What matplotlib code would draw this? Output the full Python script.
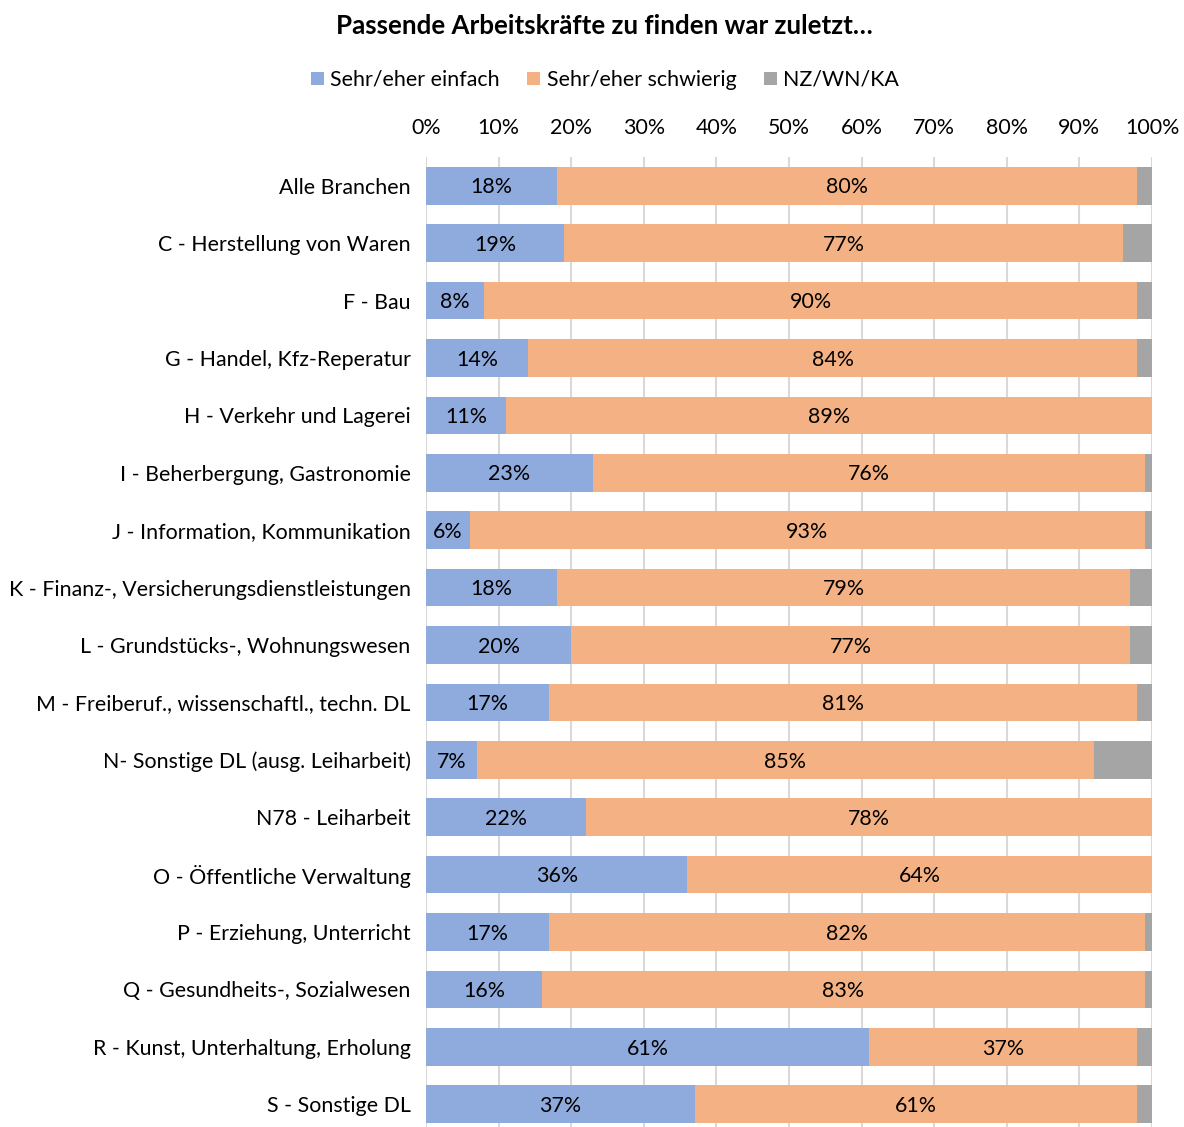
import matplotlib
matplotlib.use("Agg")
import matplotlib.pyplot as plt
from matplotlib.patches import Patch
import numpy as np

plt.rcParams['font.family'] = ['Lato', 'DejaVu Sans']

categories = [
    "Alle Branchen",
    "C - Herstellung von Waren",
    "F - Bau",
    "G - Handel, Kfz-Reperatur",
    "H - Verkehr und Lagerei",
    "I - Beherbergung, Gastronomie",
    "J - Information, Kommunikation",
    "K - Finanz-, Versicherungsdienstleistungen",
    "L - Grundstücks-, Wohnungswesen",
    "M - Freiberuf., wissenschaftl., techn. DL",
    "N- Sonstige DL (ausg. Leiharbeit)",
    "N78 - Leiharbeit",
    "O - Öffentliche Verwaltung",
    "P - Erziehung, Unterricht",
    "Q - Gesundheits-, Sozialwesen",
    "R - Kunst, Unterhaltung, Erholung",
    "S - Sonstige DL",
]
einfach = [18, 19, 8, 14, 11, 23, 6, 18, 20, 17, 7, 22, 36, 17, 16, 61, 37]
schwierig = [80, 77, 90, 84, 89, 76, 93, 79, 77, 81, 85, 78, 64, 82, 83, 37, 61]
nz_wn_ka = [2, 4, 2, 2, 0, 1, 1, 3, 3, 2, 8, 0, 0, 1, 1, 2, 2]

series_names = ["Sehr/eher einfach", "Sehr/eher schwierig", "NZ/WN/KA"]
colors = ["#8faadc", "#f4b183", "#a5a5a5"]
x_ticks = [0, 10, 20, 30, 40, 50, 60, 70, 80, 90, 100]

FS = 15.4

W, H = 1184, 1127
fig = plt.figure(figsize=(W / 100, H / 100), dpi=100)
ax = fig.add_axes([426 / W, 1 - 1133 / H, (1152 - 426) / W, (1133 - 157) / H])

y = np.arange(len(categories))
left = np.zeros(len(categories))
for vals, col in zip([einfach, schwierig, nz_wn_ka], colors):
    vals = np.array(vals, dtype=float)
    ax.barh(y, vals, left=left, height=0.655, color=col, zorder=2)
    left += vals

for i in range(len(categories)):
    ax.text(einfach[i] / 2, i + 0.03, f"{einfach[i]}%", ha="center", va="center",
            fontsize=FS, color="black", zorder=3)
    ax.text(einfach[i] + schwierig[i] / 2, i + 0.03, f"{schwierig[i]}%", ha="center",
            va="center", fontsize=FS, color="black", zorder=3)

ax.set_xlim(0, 100)
ax.set_ylim(len(categories) - 0.5, -0.5)
ax.set_yticks(y)
ax.set_yticklabels(categories, fontsize=FS)
ax.set_xticks(x_ticks)
ax.set_xticklabels([f"{t}%" for t in x_ticks], fontsize=FS)
ax.xaxis.tick_top()
ax.tick_params(axis="x", length=0, pad=14)
ax.tick_params(axis="y", length=0, pad=11)
ax.grid(axis="x", color="#d9d9d9", linewidth=1.5, zorder=0)
ax.set_axisbelow(True)
for s in ax.spines.values():
    s.set_visible(False)

fig.text(604 / W, 1 - 26 / H, "Passende Arbeitskräfte zu finden war zuletzt…",
         ha="center", va="center", fontsize=18.6, fontweight="bold")

handles = [Patch(facecolor=c, edgecolor="none") for c in colors]
fig.legend(handles, series_names, loc="center", bbox_to_anchor=(605 / W, 1 - 80 / H),
           ncol=3, frameon=False, fontsize=FS, handlelength=0.6, handleheight=0.6,
           handletextpad=0.3, columnspacing=1.3)

fig.savefig("out.png", dpi=100)
